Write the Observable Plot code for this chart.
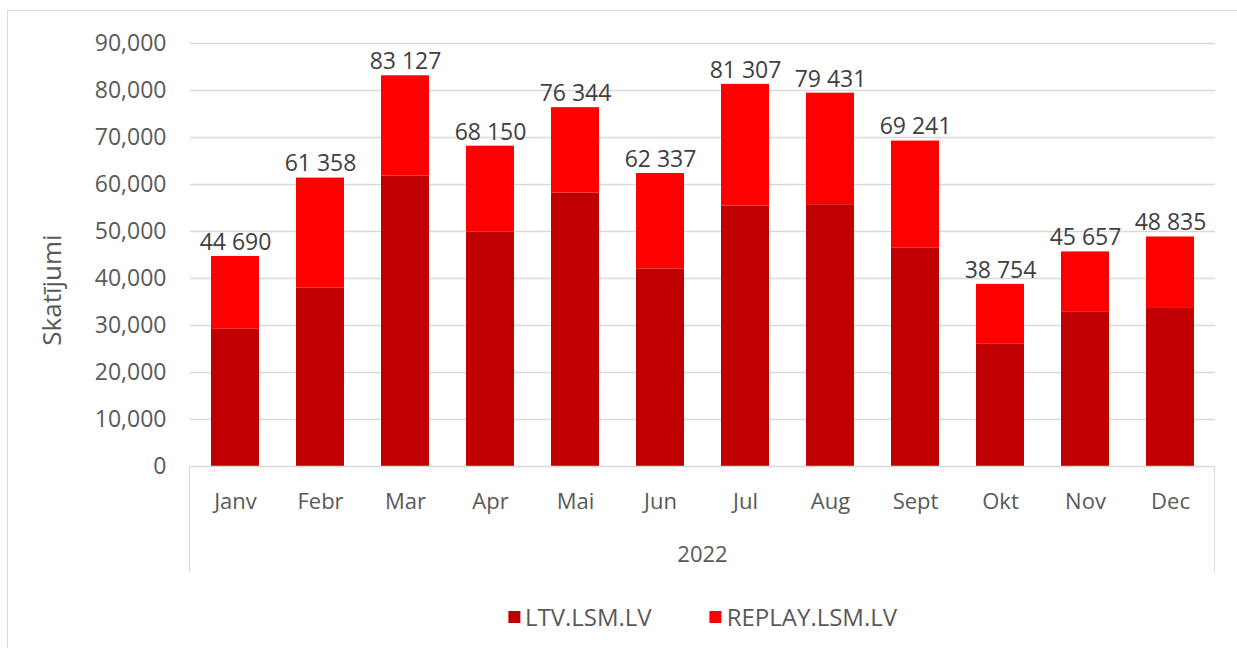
<!DOCTYPE html>
<html>
<head>
<meta charset="utf-8">
<script src="https://cdn.jsdelivr.net/npm/d3@7"></script>
<script src="https://cdn.jsdelivr.net/npm/@observablehq/plot@0.6"></script>
<style>
  html, body { margin: 0; padding: 0; background: #fff; }
  #wrap { position: relative; width: 1237px; height: 648px; overflow: hidden; font-family: "Open Sans", sans-serif; }
  #border { position: absolute; left: 7px; top: 10px; width: 1250px; height: 660px; border: 1.5px solid #d9d9d9; box-sizing: border-box; }
  .vline { position: absolute; width: 0; border-left: 1.5px solid #d9d9d9; }
  #year { position: absolute; font-size: 22px; color: #595959; transform: translate(-50%, -50%); }
  #legend { position: absolute; top: 600px; display: flex; transform: translateX(-50%); font-size: 24px; color: #595959; white-space: nowrap; }
  .item { display: flex; align-items: center; margin: 0 29px; }
  .sw { width: 12px; height: 12px; margin-right: 5px; }
  #chart { position: absolute; left: 0; top: 0; }
</style>
</head>
<body>
<div id="wrap">
  <div id="border"></div>
  <div id="chart"></div>
</div>
<script>
const months = ["Janv", "Febr", "Mar", "Apr", "Mai", "Jun", "Jul", "Aug", "Sept", "Okt", "Nov", "Dec"];
const series = ["LTV.LSM.LV", "REPLAY.LSM.LV"];
const colors = ["#C00000", "#FF0000"];
const ltv = [29200, 38000, 61800, 49900, 58200, 42000, 55400, 55700, 46500, 26100, 32800, 33800];
const replay = [15490, 23358, 21327, 18250, 18144, 20337, 25907, 23731, 22741, 12654, 12857, 15035];
const totals = [44690, 61358, 83127, 68150, 76344, 62337, 81307, 79431, 69241, 38754, 45657, 48835];
const yTicks = [0, 10000, 20000, 30000, 40000, 50000, 60000, 70000, 80000, 90000];
const yLabel = "Skatījumi";
const groupLabel = "2022";

const rows = [];
months.forEach((m, i) => {
  rows.push({month: m, series: series[0], value: ltv[i]});
  rows.push({month: m, series: series[1], value: replay[i]});
});
const totalRows = months.map((m, i) => ({month: m, total: totals[i]}));
const spaceFmt = d3.formatLocale({decimal: ".", thousands: " ", grouping: [3], currency: ["", ""]}).format(",d");
const commaFmt = d3.format(",d");

const W = 1237, H = 648;
const mL = 190, mR = 22, mT = 43, mB = 182;

const plot = Plot.plot({
  width: W,
  height: H,
  marginLeft: mL,
  marginRight: mR,
  marginTop: mT,
  marginBottom: mB,
  style: {fontFamily: "'Open Sans', sans-serif", fontSize: "22px", color: "#595959", background: "transparent", overflow: "visible"},
  x: {domain: months, paddingInner: 0.43, paddingOuter: 0.215, label: null},
  y: {domain: [0, 90000], label: null},
  color: {domain: series, range: colors},
  marks: [
    Plot.gridY(yTicks.filter(d => d > 0), {stroke: "#d9d9d9", strokeOpacity: 1, strokeWidth: 1.5}),
    Plot.axisY({ticks: yTicks, tickFormat: commaFmt, tickSize: 0, tickPadding: 24, fontSize: 23, label: null}),
    Plot.axisX({tickSize: 0, tickPadding: 27, fontSize: 22, label: null}),
    Plot.barY(rows, {x: "month", y: "value", fill: "series", order: null}),
    Plot.ruleY([0], {stroke: "#d9d9d9", strokeWidth: 1.5}),
    Plot.text(totalRows, {x: "month", y: "total", text: d => spaceFmt(d.total), dy: -14, fill: "#404040", fontSize: 23})
  ]
});
document.getElementById("chart").appendChild(plot);

const wrap = document.getElementById("wrap");
// y axis title
const t = document.createElement("div");
t.textContent = yLabel;
t.style.cssText = "position:absolute;left:51px;top:290px;transform:translate(-50%,-50%) rotate(-90deg);font-size:26px;color:#595959;white-space:nowrap;";
wrap.appendChild(t);
// group separator lines
const y0 = H - mB;
[mL, W - mR].forEach(x => {
  const v = document.createElement("div");
  v.className = "vline";
  v.style.left = (x - 0.75) + "px";
  v.style.top = y0 + "px";
  v.style.height = "106px";
  wrap.appendChild(v);
});
// group label
const yr = document.createElement("div");
yr.id = "year";
yr.textContent = groupLabel;
yr.style.left = ((mL + W - mR) / 2) + "px";
yr.style.top = "553px";
wrap.appendChild(yr);
// legend
const lg = document.createElement("div");
lg.id = "legend";
lg.style.left = ((mL + W - mR) / 2) + "px";
series.forEach((s, i) => {
  const it = document.createElement("div");
  it.className = "item";
  const sw = document.createElement("div");
  sw.className = "sw";
  sw.style.background = colors[i];
  const tx = document.createElement("span");
  tx.textContent = s;
  it.appendChild(sw); it.appendChild(tx);
  lg.appendChild(it);
});
wrap.appendChild(lg);
</script>
</body>
</html>
